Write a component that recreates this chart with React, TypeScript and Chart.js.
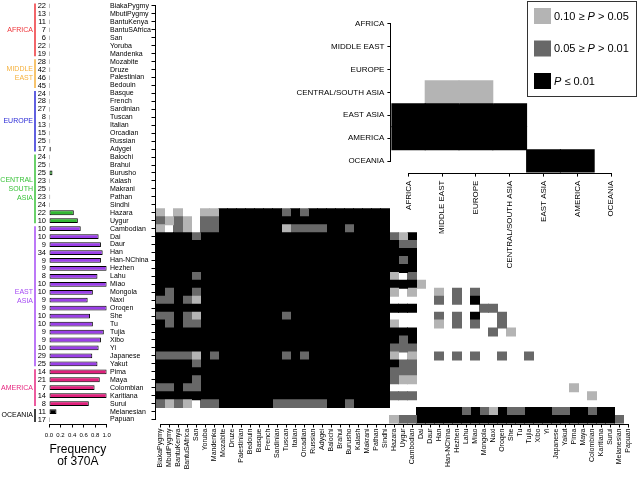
import React, { useEffect, useRef } from "react";
import { Chart, registerables } from "chart.js";

Chart.register(...registerables);

const W = 638;
const H = 478;
const FONT = '"Liberation Sans", Arial, Helvetica, sans-serif';

// ---------------- data ----------------
const populations = [
  "BiakaPygmy", "MbutiPygmy", "BantuKenya", "BantuSAfrica", "San", "Yoruba", "Mandenka",
  "Mozabite", "Druze", "Palestinian", "Bedouin",
  "Basque", "French", "Sardinian", "Tuscan", "Italian", "Orcadian", "Russian", "Adygei",
  "Balochi", "Brahui", "Burusho", "Kalash", "Makrani", "Pathan", "Sindhi", "Hazara", "Uygur",
  "Cambodian", "Dai", "Daur", "Han", "Han-NChina", "Hezhen", "Lahu", "Miao", "Mongola", "Naxi",
  "Oroqen", "She", "Tu", "Tujia", "Xibo", "Yi", "Japanese", "Yakut",
  "Pima", "Maya", "Colombian", "Karitiana", "Surui",
  "Melanesian", "Papuan",
];

const sampleSizes = [
  22, 13, 11, 7, 6, 22, 19,
  28, 42, 46, 45,
  24, 28, 27, 8, 13, 15, 25, 17,
  24, 25, 25, 23, 25, 23, 24, 22, 10,
  10, 10, 9, 34, 9, 9, 8, 10, 10, 9, 9, 10, 10, 9, 9, 10, 29, 25,
  14, 21, 7, 14, 8,
  11, 17,
];

const freq370A = [
  0, 0, 0, 0, 0, 0, 0,
  0, 0.02, 0, 0,
  0, 0, 0, 0, 0, 0, 0.02, 0.03,
  0, 0, 0.06, 0, 0, 0.02, 0, 0.43, 0.5,
  0.55, 0.86, 0.9, 0.93, 0.9, 1.0, 0.84, 1.0, 0.76, 0.67, 1.0, 0.71, 0.76, 0.95, 0.9, 0.86, 0.75, 0.84,
  1.0, 0.88, 0.79, 1.0, 0.69,
  0.13, 0,
];

const groupLabels = [["AFRICA"], ["MIDDLE", "EAST"], ["EUROPE"], ["CENTRAL", "SOUTH", "ASIA"], ["EAST", "ASIA"], ["AMERICA"], ["OCEANIA"]];
const groupFirst = [0, 7, 11, 19, 28, 46, 51];
const groupLast = [6, 10, 18, 27, 45, 50, 52];
const groupColors = ["#ee3338", "#f5b13d", "#2b2bd6", "#39c239", "#a64bf4", "#e6267f", "#000000"];
const groupBarColors = ["#ee3338", "#f5b13d", "#2323c8", "#33b833", "#9b3fe8", "#e0207c", "#000000"];

const regions = ["AFRICA", "MIDDLE EAST", "EUROPE", "CENTRAL/SOUTH ASIA", "EAST ASIA", "AMERICA", "OCEANIA"];
// significance codes, row > column: 0 n.s., 1 = 0.10>=P>0.05, 2 = 0.05>=P>0.01, 3 = P<=0.01
const regionPairs = ["", "0", "00", "011", "3333", "33330", "000033"];

const pairFirstRow = 26; // rows above Hazara have no significant pairs
const populationPairs = [
  "1010011 3333333 232 333333333",
  "2121022 3333333333 333333333 0",
  "1021022 3333333 1 2222 33 2 3333 00",
  "3333 2 3333333333 3333333333 3 2 1 3",
  "3333333333 3333333333 3333333 22 0",
  "3333333333 3333333333 333333333 00",
  "3333333333 3333333333 3333333 2 3 000",
  "3333333333 3333333333 333333333 0000",
  "3333 2 3333333333 3333333333 3 1 0 2 00000",
  "3333333333 3333333333 333333333 1 00000",
  "3 2 33 2 3333333333 3333333333 3 1 0 1 00 1 0 2 0 2",
  "22 3 2 1 3333333333 3333333333 3 000 00 2 0 2 0 3 0",
  "3333333333 3333333333 333333333 0000000 22",
  "22 3 2 1 333333333 2 3333333333 3 000 00 2 0 2 0 3 00 2",
  "3 2 3 22 3333333333 3333333333 3 1 00 00 1 0 2 0 2 00 2 0",
  "3333333333 3333333333 333333333 00000000 2 0 1 0",
  "3333333333 3333333333 3333333 2 3 0000000000 000",
  "3333333333 3333333333 333333 222 0000000000 0000",
  "2222 1 3 2 3333333 2 3 2 333333333 1 0 1 00 2 0 2 0 2 00 2 00 2 00",
  "3333 2 3333333333 3333333333 3 3 22 0000000000 000000",
  "3333333333 3333333333 333333 222 0000000000 0000000",
  "3333 2 3333333333 3333333333 3 2 11 0000000000 00000000",
  "22 3 22 3333333333 3333333333 3 000 0000000000 0000000 1 0",
  "3333333333 3333333333 333333 222 0000000000 000000000 1",
  "2121022 333333 222222 33 2 3333 0000000000 0000000000 0000",
  "0000000000 0000000000 000000000 33333 2 3 2 1 3 22 333 22 33 2 33",
  "0000000000 0000000000 000000 1 22 3333333333 3333333333 33 2",
].map((r) => r.replace(/ /g, ""));

const levelLabels = [["0.10 \u2265 ", "P", " > 0.05"], ["0.05 \u2265 ", "P", " > 0.01"], ["", "P", " \u2264 0.01"]];
const levelColors = ["#ffffff", "#b4b4b4", "#686868", "#000000"];

// ---------------- helpers ----------------
const fixBox = (w?: number, h?: number) => (s: any) => {
  if (w !== undefined) s.width = w;
  if (h !== undefined) s.height = h;
  s.paddingTop = 0;
  s.paddingBottom = 0;
  s.paddingLeft = 0;
  s.paddingRight = 0;
};

const popLevel = (i: number, j: number) => {
  if (i < pairFirstRow || j >= i) return 0;
  const row = populationPairs[i - pairFirstRow] || "";
  return Number(row[j] || 0);
};
const regionLevel = (i: number, j: number) => (j < i ? Number(regionPairs[i][j] || 0) : 0);

const axisLines = {
  id: "axisLines",
  afterDraw(chart: any, _a: any, opts: any) {
    const ctx = chart.ctx;
    ctx.save();
    ctx.strokeStyle = "#000";
    ctx.lineWidth = 1;
    for (const id of opts.axes || []) {
      const s = chart.scales[id];
      const n = s.ticks.length;
      const a = s.getPixelForTick(0);
      const b = s.getPixelForTick(n - 1);
      ctx.beginPath();
      if (s.isHorizontal()) {
        const y = Math.round(s.top) + 0.5;
        ctx.moveTo(a, y);
        ctx.lineTo(b, y);
      } else {
        const x = Math.round(s.right) - 0.5;
        ctx.moveTo(x, a);
        ctx.lineTo(x, b);
      }
      ctx.stroke();
    }
    ctx.restore();
  },
};

const groupPlugin = {
  id: "groupLabels",
  afterDraw(chart: any) {
    const ys = chart.scales.y;
    const ctx = chart.ctx;
    const half = (ys.getPixelForTick(1) - ys.getPixelForTick(0)) / 2;
    ctx.save();
    groupFirst.forEach((f, g) => {
      const top = ys.getPixelForTick(f) - half + 1.5;
      const bot = ys.getPixelForTick(groupLast[g]) + half - 1.5;
      ctx.strokeStyle = groupColors[g];
      ctx.lineWidth = 1.5;
      ctx.beginPath();
      ctx.moveTo(35, top);
      ctx.lineTo(35, bot);
      ctx.stroke();
      const lines = groupLabels[g];
      const lh = 9;
      const mid = (top + bot) / 2;
      ctx.fillStyle = groupColors[g];
      ctx.font = `7px ${FONT}`;
      ctx.textAlign = "right";
      ctx.textBaseline = "middle";
      lines.forEach((t, k) => {
        ctx.fillText(t, 33, mid + (k - (lines.length - 1) / 2) * lh);
      });
    });
    ctx.restore();
  },
};

const legendPlugin = {
  id: "pLegend",
  afterDraw(chart: any) {
    const ctx = chart.ctx;
    ctx.save();
    ctx.strokeStyle = "#333";
    ctx.lineWidth = 1;
    ctx.strokeRect(527.5, 1.5, 109, 95);
    const ys = [8, 40.5, 73];
    levelLabels.forEach((parts, k) => {
      ctx.fillStyle = levelColors[k + 1];
      ctx.fillRect(534, ys[k], 17, 16);
      let x = 554;
      const y = ys[k] + 8.5;
      ctx.textBaseline = "middle";
      ctx.textAlign = "left";
      ctx.fillStyle = "#000";
      parts.forEach((p, m) => {
        ctx.font = (m === 1 ? "italic " : "") + `11px ${FONT}`;
        ctx.fillText(p, x, y);
        x += ctx.measureText(p).width;
      });
    });
    ctx.restore();
  },
};

// ---------------- chart configs ----------------
const barConfig = () => ({
  type: "bar",
  data: {
    labels: populations,
    datasets: [
      {
        data: freq370A,
        backgroundColor: populations.map((_, i) => groupBarColors[groupFirst.filter((f) => f <= i).length - 1]),
        borderColor: "#000",
        borderWidth: 1,
        borderSkipped: false,
        barPercentage: 0.6,
        categoryPercentage: 1,
        minBarLength: 1,
      },
    ],
  },
  options: {
    indexAxis: "y",
    responsive: false,
    animation: false,
    devicePixelRatio: 1,
    layout: { padding: { left: 0, right: W - 106.7, top: 2, bottom: 0 } },
    plugins: { legend: { display: false }, tooltip: { enabled: false }, axisLines: { axes: ["x"] } },
    scales: {
      x: {
        type: "linear",
        min: 0,
        max: 1,
        ticks: {
          stepSize: 0.2,
          callback: (v: any) => Number(v).toFixed(1),
          font: { family: FONT, size: 6 },
          color: "#000",
          padding: 4,
          maxRotation: 0,
          autoSkip: false,
        },
        grid: { display: true, drawOnChartArea: false, drawTicks: true, tickLength: 4, color: "#000" },
        border: { display: false },
        title: {
          display: true,
          text: ["Frequency", "of 370A"],
          font: { family: FONT, size: 12, lineHeight: 1 },
          color: "#000",
          padding: { top: 0, bottom: 10 },
        },
        afterFit: fixBox(undefined, 54.5),
      },
      y: {
        type: "category",
        ticks: {
          autoSkip: false,
          callback: (_v: any, i: number) => String(sampleSizes[i]),
          font: { family: FONT, size: 7.5 },
          color: "#000",
          padding: 3,
        },
        grid: { display: false, drawTicks: false, tickLength: 0 },
        border: { display: false },
        afterFit: fixBox(49, undefined),
      },
    },
  },
  plugins: [axisLines, groupPlugin],
});

const heatConfig = () => ({
  type: "bar",
  data: {
    labels: populations,
    datasets: populations.map((_, j) => ({
      data: populations.map((__, i) => (popLevel(i, j) > 0 ? [j - 0.5, j + 0.5] : null)),
      backgroundColor: populations.map((__, i) => levelColors[popLevel(i, j)]),
      borderWidth: 0,
      inflateAmount: 0.5,
      grouped: false,
      barPercentage: 1,
      categoryPercentage: 1,
    })),
  },
  options: {
    indexAxis: "y",
    responsive: false,
    animation: false,
    devicePixelRatio: 1,
    layout: { padding: { left: 110, right: 5.5, top: 2, bottom: 0 } },
    plugins: { legend: { display: false }, tooltip: { enabled: false }, axisLines: { axes: ["x", "y"] } },
    scales: {
      x: {
        type: "linear",
        min: -0.5,
        max: populations.length - 0.5,
        afterBuildTicks: (s: any) => {
          s.ticks = populations.map((_, i) => ({ value: i }));
        },
        ticks: {
          autoSkip: false,
          minRotation: 90,
          maxRotation: 90,
          padding: 1,
          callback: (v: any) => populations[v],
          font: { family: FONT, size: 7 },
          color: "#000",
        },
        grid: { display: true, drawOnChartArea: false, drawTicks: true, tickLength: 4, color: "#000" },
        border: { display: false },
        afterFit: fixBox(undefined, 54.5),
      },
      y: {
        type: "category",
        ticks: { autoSkip: false, crossAlign: "far", padding: 2, font: { family: FONT, size: 7 }, color: "#000" },
        grid: { display: true, offset: false, drawOnChartArea: false, drawTicks: true, tickLength: 4, color: "#000" },
        border: { display: false },
        afterFit: fixBox(45.5, undefined),
      },
    },
  },
  plugins: [axisLines],
});

const insetConfig = () => ({
  type: "bar",
  data: {
    labels: regions,
    datasets: regions.map((_, j) => ({
      data: regions.map((__, i) => (regionLevel(i, j) > 0 ? [j - 0.5, j + 0.5] : null)),
      backgroundColor: regions.map((__, i) => levelColors[regionLevel(i, j)]),
      borderWidth: 0,
      inflateAmount: 0.5,
      grouped: false,
      barPercentage: 1,
      categoryPercentage: 1,
    })),
  },
  options: {
    indexAxis: "y",
    responsive: false,
    animation: false,
    devicePixelRatio: 1,
    layout: { padding: { left: 200, right: W - 628, top: 12, bottom: 0 } },
    plugins: { legend: { display: false }, tooltip: { enabled: false }, axisLines: { axes: ["x", "y"] } },
    scales: {
      x: {
        type: "linear",
        min: -0.5,
        max: regions.length - 0.5,
        afterBuildTicks: (s: any) => {
          s.ticks = regions.map((_, i) => ({ value: i }));
        },
        ticks: {
          autoSkip: false,
          minRotation: 90,
          maxRotation: 90,
          padding: 4,
          callback: (v: any) => regions[v],
          font: { family: FONT, size: 8 },
          color: "#000",
        },
        grid: { display: true, drawOnChartArea: false, drawTicks: true, tickLength: 4, color: "#000" },
        border: { display: false },
        afterFit: fixBox(undefined, H - 172.6),
      },
      y: {
        type: "category",
        ticks: { autoSkip: false, padding: 3, font: { family: FONT, size: 8 }, color: "#000" },
        grid: { display: true, offset: false, drawOnChartArea: false, drawTicks: true, tickLength: 4, color: "#000" },
        border: { display: false },
        afterFit: fixBox(391.4 - 200, undefined),
      },
    },
  },
  plugins: [axisLines, legendPlugin],
});

function Layer({ build }: { build: () => any }) {
  const ref = useRef<HTMLCanvasElement>(null);
  useEffect(() => {
    const chart = new Chart(ref.current as HTMLCanvasElement, build());
    return () => chart.destroy();
  }, []);
  return (
    <canvas
      ref={ref}
      width={W}
      height={H}
      style={{ position: "absolute", left: 0, top: 0, width: W, height: H }}
    />
  );
}

export default function App() {
  useEffect(() => {
    document.body.style.margin = "0";
  }, []);
  return (
    <div style={{ position: "fixed", left: 0, top: 0, width: W, height: H, background: "#fff", overflow: "hidden" }}>
      <Layer build={barConfig} />
      <Layer build={heatConfig} />
      <Layer build={insetConfig} />
    </div>
  );
}
